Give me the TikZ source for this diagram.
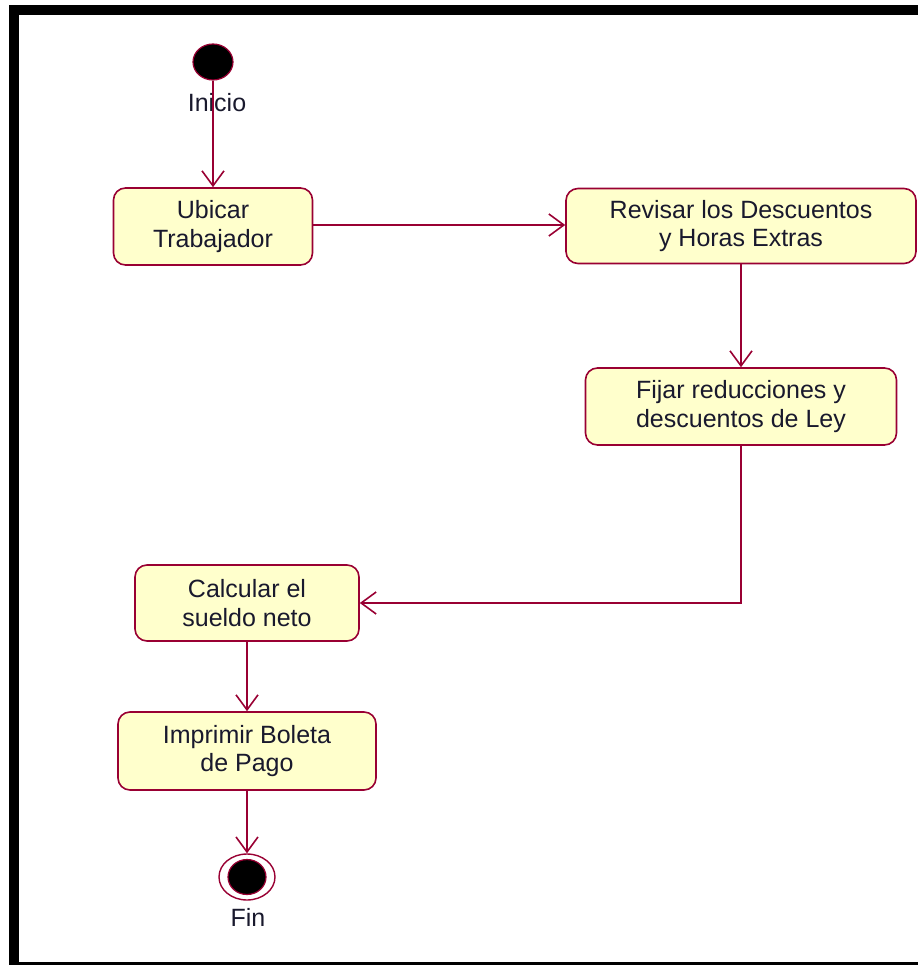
\documentclass[tikz,border=0pt]{standalone}
\usepackage{fontspec}
\setmainfont{Liberation Sans}
\usetikzlibrary{arrows.meta,shapes.geometric}

\definecolor{umlline}{RGB}{153,0,51}
\definecolor{umlfill}{RGB}{255,255,204}
\definecolor{umltext}{RGB}{25,25,45}

\tikzset{
  act/.style={draw=umlline, fill=umlfill, line width=1.6pt, rounded corners=12pt,
    align=center, text=umltext, inner sep=0pt,
    font=\fontsize{25}{28.5}\selectfont},
  flow/.style={draw=umlline, line width=2pt,
    -{Straight Barb[length=15pt, width=22pt, line width=1.6pt]}},
  startnode/.style={ellipse, fill=black, draw=umlline, line width=1.2pt,
    minimum width=40pt, minimum height=36pt, inner sep=0pt},
  endring/.style={ellipse, fill=white, draw=umlline, line width=1.4pt,
    minimum width=56pt, minimum height=46pt, inner sep=0pt},
  enddot/.style={ellipse, fill=black, draw=umlline, line width=1.2pt,
    minimum width=38pt, minimum height=35pt, inner sep=0pt},
  lbl/.style={text=umltext, inner sep=0pt, font=\fontsize{25}{28}\selectfont}
}

\begin{document}
\begin{tikzpicture}[x=1pt, y=-1pt]
  \useasboundingbox (0,0) rectangle (917,965);

  % outer frame
  \draw[line width=10pt, black] (14,10) rectangle (928,967);

  % initial and final states
  \node[startnode] (ini) at (213,62) {};
  \node[lbl] (inilbl) at (217,103) {Inicio};

  \node[endring] (fin) at (247,877) {};
  \node[enddot] (findot) at (247,877) {};
  \node[lbl] (finlbl) at (248,917) {Fin};

  % activities
  \node[act, minimum width=199pt, minimum height=77pt] (ubicar) at (213,226.5)
    {Ubicar\\Trabajador};
  \node[act, minimum width=350pt, minimum height=75pt] (revisar) at (741,226)
    {Revisar los Descuentos\\y Horas Extras};
  \node[act, minimum width=311pt, minimum height=77pt] (fijar) at (741,406.5)
    {Fijar reducciones y\\descuentos de Ley};
  \node[act, minimum width=224pt, minimum height=76pt] (calcular) at (247,603)
    {Calcular el\\sueldo neto};
  \node[act, minimum width=258pt, minimum height=78pt] (imprimir) at (247,751)
    {Imprimir Boleta\\de Pago};

  % transitions
  \draw[flow] (ini.south) -- (ini.south |- ubicar.north);
  \draw[flow] ([yshift=1.5pt]ubicar.east) -- ([yshift=1.5pt]ubicar.east -| revisar.west);
  \draw[flow] (revisar.south) -- (revisar.south |- fijar.north);
  \draw[flow] (fijar.south) |- (calcular.east);
  \draw[flow] (calcular.south) -- (calcular.south |- imprimir.north);
  \draw[flow] (imprimir.south) -- (imprimir.south |- fin.north);
\end{tikzpicture}
\end{document}
